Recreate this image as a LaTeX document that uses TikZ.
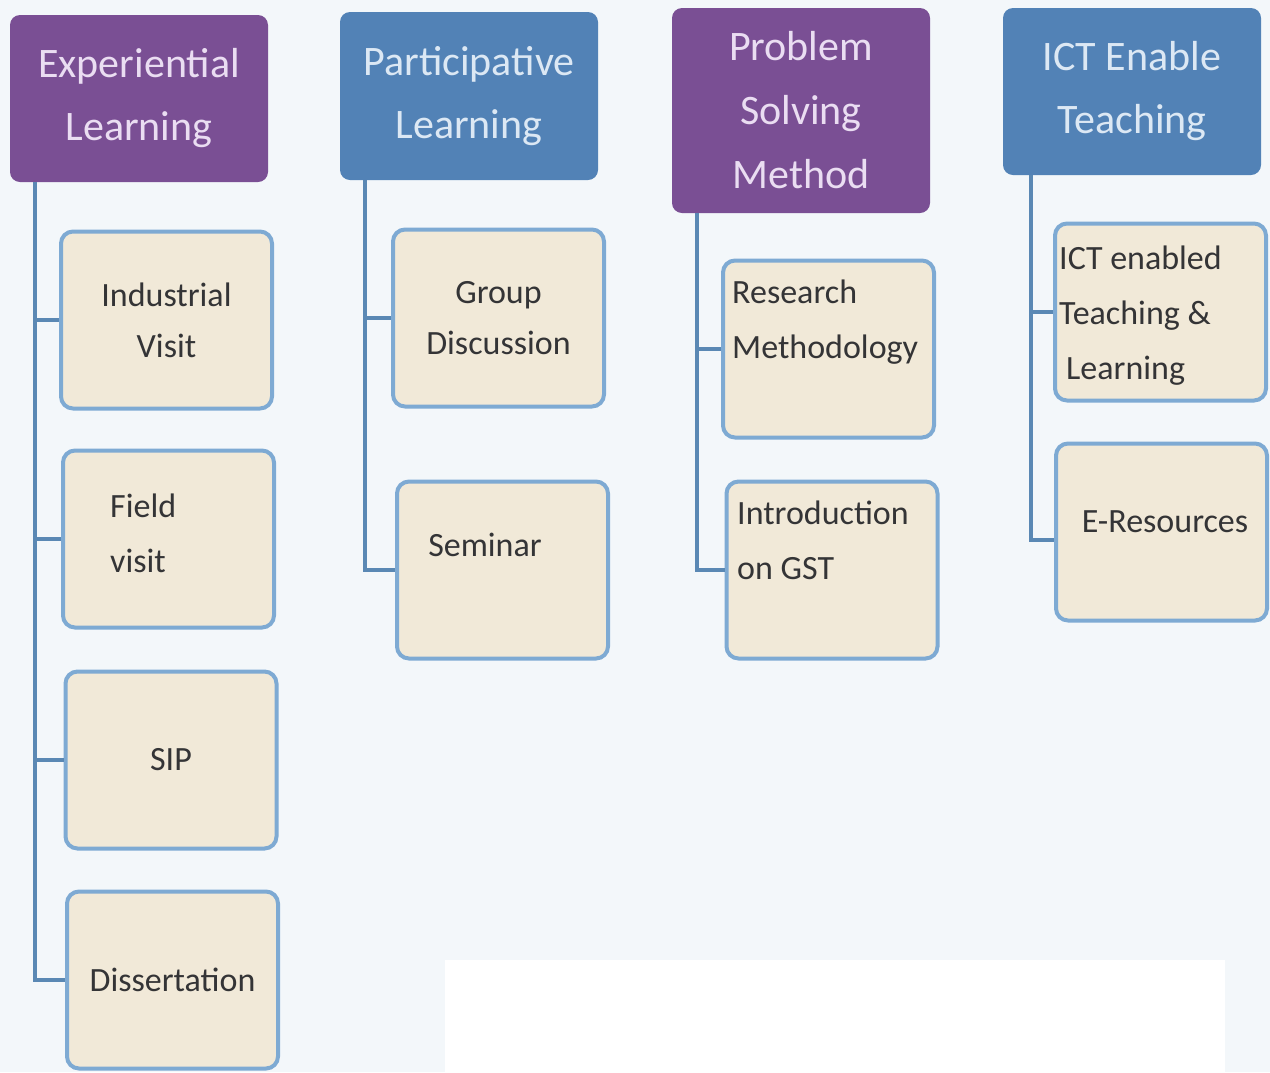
\documentclass[tikz,border=0pt]{standalone}
\usepackage{fontspec}
\setmainfont{Carlito}
\definecolor{bgc}{HTML}{F3F7FA}
\definecolor{purp}{HTML}{7A4F94}
\definecolor{blu}{HTML}{5282B6}
\definecolor{purptxt}{HTML}{EADDF2}
\definecolor{blutxt}{HTML}{DCE8F4}
\definecolor{beige}{HTML}{F1E9D8}
\definecolor{bord}{HTML}{7EAAD3}
\definecolor{connc}{HTML}{5A88B4}
\definecolor{txtc}{HTML}{343436}
\tikzset{
  hdr/.style={rounded corners=10pt, minimum width=258pt, inner sep=0pt, align=center,
    font=\fontsize{42}{63}\selectfont},
  hdrp/.style={hdr, fill=purp, text=purptxt},
  hdrb/.style={hdr, fill=blu, text=blutxt},
  child/.style={draw=bord, line width=4pt, fill=beige, rounded corners=12pt,
    minimum width=211pt, minimum height=177pt, inner sep=0pt, align=center, text=txtc,
    font=\fontsize{34}{51}\selectfont},
  ctext/.style={inner sep=0pt, text=txtc, font=\fontsize{34}{55}\selectfont},
  conn/.style={draw=connc, line width=4pt},
}
\begin{document}
\begin{tikzpicture}[x=1pt,y=-1pt]
\fill[bgc] (0,0) rectangle (1270,1072);
\useasboundingbox (0,0) rectangle (1270,1072);
\fill[white] (445,960) rectangle (1225,1072);

% headers
\node[hdrp, minimum height=167pt] (h1) at (139,98.5) {Experiential\\Learning};
\node[hdrb, minimum height=168pt] (h2) at (469,96) {Participative\\Learning};
\node[hdrp, minimum height=205pt, font=\fontsize{42}{64}\selectfont] (h3) at (801,110.5) {Problem\\Solving\\Method};
\node[hdrb, minimum height=167pt] (h4) at (1132,91.5) {ICT Enable\\Teaching};

% column 1
\node[child] (c11) at (166.5,320) {Industrial\\Visit};
\node[child] (c12) at (168.5,539) {};
\node[ctext, anchor=west, align=left] (t12) at (110,533) {Field\\visit};
\node[child] (c13) at (171,760) {SIP};
\node[child] (c14) at (172.5,980) {Dissertation};

% column 2
\node[child] (c21) at (498.5,318) {Group\\Discussion};
\node[child] (c22) at (502.5,570) {};
\node[ctext] (t22) at (485,545) {Seminar};

% column 3
\node[child] (c31) at (828.5,349) {};
\node[ctext, anchor=west, align=left] (t31) at (732,322) {Research\\Methodology};
\node[child] (c32) at (832,570) {};
\node[ctext, anchor=west, align=left] (t32) at (737,540) {Introduction\\on GST};

% column 4
\node[child] (c41) at (1160.5,312) {};
\node[ctext, anchor=west, align=left] (t41) at (1059,316) {ICT enabled\\Teaching \&\\\hspace*{7pt}Learning};
\node[child] (c42) at (1161.5,532) {};
\node[ctext] (t42) at (1165,522) {E-Resources};

% connectors
\coordinate (r1) at ([xshift=25pt]h1.south west);
\coordinate (r2) at ([xshift=25pt]h2.south west);
\coordinate (r3) at ([xshift=25pt]h3.south west);
\coordinate (r4) at ([xshift=28pt]h4.south west);

\draw[conn] (r1) |- (c14.west);
\draw[conn] (r1 |- c11.west) -- (c11.west);
\draw[conn] (r1 |- c12.west) -- (c12.west);
\draw[conn] (r1 |- c13.west) -- (c13.west);

\draw[conn] (r2) |- (c22.west);
\draw[conn] (r2 |- c21.west) -- (c21.west);

\draw[conn] (r3) |- (c32.west);
\draw[conn] (r3 |- c31.west) -- (c31.west);

\draw[conn] (r4) |- ([yshift=-8pt]c42.west);
\draw[conn] (r4 |- c41.west) -- (c41.west);
\end{tikzpicture}
\end{document}
